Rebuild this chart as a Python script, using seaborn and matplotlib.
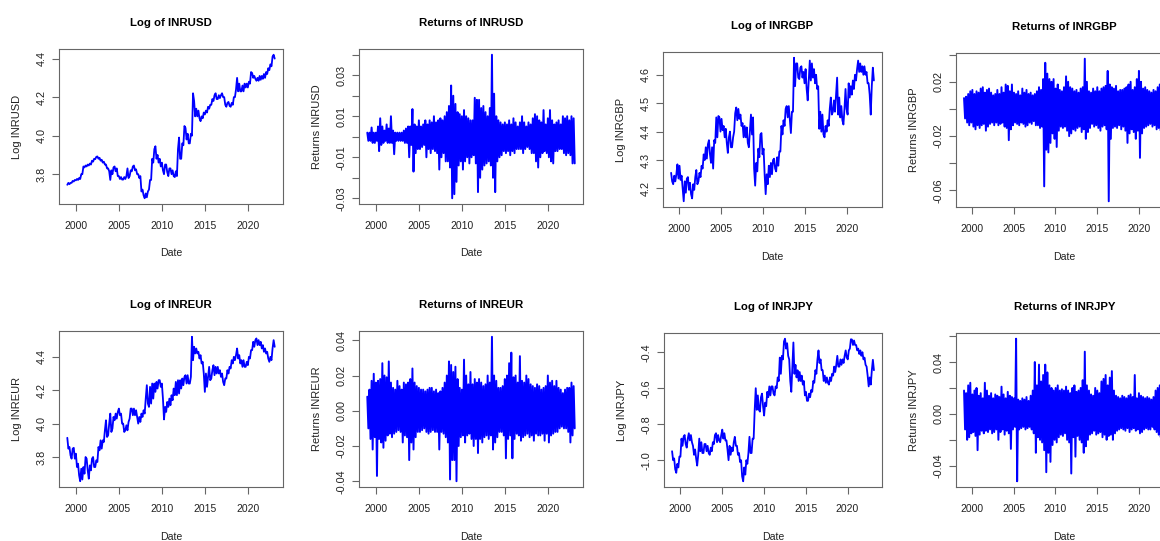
import numpy as np
import matplotlib
matplotlib.use("Agg")
import matplotlib.pyplot as plt
import seaborn as sns

# Quarter starts, 1999 Q1 .. 2023 Q1 (97 quarters)
QUARTERS = np.arange(1999.0, 2023.01, 0.25)
YEAR_TICKS = [2000, 2005, 2010, 2015, 2020]

# ---- Log INRUSD: quarterly high / low ----
usd_log_hi = [3.755, 3.755, 3.765, 3.770,
              3.775, 3.780, 3.800, 3.840,
              3.845, 3.850, 3.855, 3.870,
              3.880, 3.890, 3.892, 3.885,
              3.875, 3.865, 3.850, 3.830,
              3.820, 3.835, 3.840, 3.830,
              3.790, 3.785, 3.785, 3.790,
              3.830, 3.820, 3.840, 3.845,
              3.825, 3.800, 3.790, 3.720,
              3.700, 3.710, 3.770, 3.880,
              3.930, 3.945, 3.900, 3.880,
              3.860, 3.850, 3.850, 3.830,
              3.830, 3.820, 3.815, 3.930,
              3.990, 3.960, 4.050, 4.040,
              4.010, 4.010, 4.220, 4.180,
              4.140, 4.130, 4.100, 4.120,
              4.130, 4.150, 4.160, 4.190,
              4.210, 4.220, 4.210, 4.210,
              4.220, 4.200, 4.170, 4.175,
              4.170, 4.200, 4.240, 4.300,
              4.270, 4.260, 4.270, 4.270,
              4.280, 4.330, 4.325, 4.310,
              4.300, 4.310, 4.310, 4.320,
              4.330, 4.350, 4.370, 4.410,
              4.420]
usd_log_lo = [3.745, 3.748, 3.755, 3.762,
              3.768, 3.770, 3.775, 3.800,
              3.835, 3.840, 3.845, 3.850,
              3.865, 3.878, 3.880, 3.870,
              3.860, 3.850, 3.830, 3.815,
              3.770, 3.800, 3.815, 3.790,
              3.775, 3.772, 3.772, 3.775,
              3.780, 3.790, 3.815, 3.820,
              3.800, 3.780, 3.710, 3.690,
              3.675, 3.680, 3.720, 3.770,
              3.860, 3.880, 3.860, 3.840,
              3.820, 3.800, 3.810, 3.790,
              3.800, 3.790, 3.785, 3.790,
              3.880, 3.880, 3.950, 3.980,
              3.960, 3.960, 4.000, 4.100,
              4.100, 4.090, 4.075, 4.090,
              4.110, 4.120, 4.140, 4.160,
              4.180, 4.190, 4.190, 4.195,
              4.200, 4.160, 4.150, 4.155,
              4.150, 4.160, 4.200, 4.230,
              4.230, 4.230, 4.230, 4.250,
              4.250, 4.270, 4.300, 4.295,
              4.285, 4.285, 4.290, 4.295,
              4.300, 4.320, 4.340, 4.360,
              4.400]

# ---- Returns INRUSD: quarterly max / min daily return ----
usd_ret_hi = [0.002, 0.002, 0.0045, 0.002,
              0.002, 0.005, 0.009, 0.005,
              0.003, 0.006, 0.004, 0.010,
              0.003, 0.002, 0.002, 0.002,
              0.002, 0.003, 0.004, 0.005,
              0.005, 0.0135, 0.006, 0.005,
              0.008, 0.005, 0.006, 0.008,
              0.006, 0.008, 0.007, 0.010,
              0.007, 0.008, 0.009, 0.008,
              0.010, 0.012, 0.015, 0.025,
              0.020, 0.016, 0.012, 0.011,
              0.010, 0.013, 0.010, 0.009,
              0.008, 0.008, 0.019, 0.018,
              0.018, 0.014, 0.015, 0.012,
              0.010, 0.014, 0.040, 0.021,
              0.010, 0.008, 0.007, 0.006,
              0.007, 0.006, 0.008, 0.006,
              0.009, 0.007, 0.005, 0.007,
              0.010, 0.007, 0.005, 0.007,
              0.006, 0.009, 0.011, 0.010,
              0.008, 0.007, 0.013, 0.006,
              0.009, 0.013, 0.008, 0.006,
              0.007, 0.008, 0.006, 0.010,
              0.009, 0.010, 0.008, 0.010,
              0.009]
usd_ret_lo = [-0.002, -0.002, -0.003, -0.003,
              -0.002, -0.007, -0.004, -0.003,
              -0.002, -0.003, -0.003, -0.003,
              -0.0085, -0.002, -0.002, -0.002,
              -0.002, -0.003, -0.003, -0.010,
              -0.004, -0.017, -0.008, -0.006,
              -0.006, -0.005, -0.004, -0.010,
              -0.006, -0.008, -0.006, -0.007,
              -0.008, -0.016, -0.010, -0.008,
              -0.012, -0.012, -0.015, -0.030,
              -0.028, -0.022, -0.014, -0.012,
              -0.016, -0.012, -0.010, -0.013,
              -0.010, -0.009, -0.013, -0.027,
              -0.020, -0.016, -0.014, -0.013,
              -0.012, -0.014, -0.020, -0.027,
              -0.012, -0.010, -0.009, -0.007,
              -0.008, -0.007, -0.009, -0.007,
              -0.008, -0.006, -0.006, -0.006,
              -0.008, -0.006, -0.005, -0.006,
              -0.008, -0.008, -0.012, -0.015,
              -0.010, -0.008, -0.007, -0.008,
              -0.010, -0.012, -0.013, -0.007,
              -0.007, -0.006, -0.006, -0.008,
              -0.009, -0.008, -0.009, -0.013,
              -0.013]

# ---- Log INRGBP ----
gbp_log_hi = [4.255, 4.245, 4.250, 4.285,
              4.280, 4.245, 4.225, 4.235,
              4.240, 4.220, 4.215, 4.240,
              4.265, 4.255, 4.280, 4.320,
              4.345, 4.355, 4.370, 4.345,
              4.370, 4.450, 4.455, 4.450,
              4.445, 4.420, 4.410, 4.380,
              4.400, 4.380, 4.465, 4.485,
              4.480, 4.460, 4.430, 4.420,
              4.415, 4.400, 4.460, 4.450,
              4.290, 4.340, 4.390, 4.395,
              4.340, 4.250, 4.280, 4.290,
              4.300, 4.305, 4.310, 4.330,
              4.420, 4.440, 4.480, 4.490,
              4.490, 4.470, 4.660, 4.640,
              4.640, 4.625, 4.630, 4.610,
              4.620, 4.580, 4.650, 4.640,
              4.620, 4.600, 4.560, 4.470,
              4.460, 4.420, 4.440, 4.480,
              4.520, 4.510, 4.530, 4.590,
              4.520, 4.490, 4.480, 4.550,
              4.570, 4.560, 4.580, 4.600,
              4.620, 4.650, 4.640, 4.630,
              4.630, 4.610, 4.570, 4.560,
              4.625]
gbp_log_lo = [4.225, 4.215, 4.225, 4.235,
              4.230, 4.200, 4.155, 4.185,
              4.195, 4.180, 4.165, 4.195,
              4.215, 4.225, 4.240, 4.270,
              4.300, 4.305, 4.320, 4.290,
              4.270, 4.360, 4.380, 4.400,
              4.405, 4.380, 4.360, 4.325,
              4.345, 4.345, 4.400, 4.440,
              4.445, 4.420, 4.380, 4.380,
              4.360, 4.345, 4.390, 4.270,
              4.210, 4.260, 4.310, 4.320,
              4.250, 4.180, 4.215, 4.240,
              4.250, 4.270, 4.260, 4.280,
              4.330, 4.390, 4.420, 4.450,
              4.440, 4.395, 4.470, 4.560,
              4.590, 4.585, 4.590, 4.570,
              4.550, 4.510, 4.580, 4.590,
              4.570, 4.550, 4.410, 4.400,
              4.390, 4.380, 4.400, 4.420,
              4.460, 4.470, 4.470, 4.460,
              4.450, 4.440, 4.425, 4.480,
              4.460, 4.520, 4.530, 4.550,
              4.580, 4.610, 4.610, 4.600,
              4.600, 4.570, 4.530, 4.460,
              4.580]

# ---- Returns INRGBP ----
gbp_ret_hi = [0.008, 0.009, 0.011, 0.013,
              0.014, 0.011, 0.013, 0.012,
              0.015, 0.016, 0.012, 0.014,
              0.015, 0.012, 0.010, 0.011,
              0.014, 0.011, 0.016, 0.012,
              0.018, 0.017, 0.013, 0.018,
              0.012, 0.011, 0.013, 0.010,
              0.015, 0.012, 0.014, 0.011,
              0.012, 0.010, 0.011, 0.013,
              0.016, 0.014, 0.022, 0.034,
              0.026, 0.022, 0.020, 0.022,
              0.015, 0.018, 0.014, 0.013,
              0.016, 0.024, 0.020, 0.016,
              0.015, 0.013, 0.014, 0.012,
              0.015, 0.016, 0.037, 0.020,
              0.013, 0.012, 0.015, 0.013,
              0.016, 0.013, 0.015, 0.016,
              0.017, 0.028, 0.018, 0.016,
              0.015, 0.017, 0.013, 0.014,
              0.014, 0.015, 0.016, 0.018,
              0.020, 0.014, 0.016, 0.022,
              0.028, 0.020, 0.015, 0.016,
              0.014, 0.013, 0.012, 0.014,
              0.013, 0.016, 0.018, 0.016,
              0.014]
gbp_ret_lo = [-0.007, -0.010, -0.012, -0.010,
              -0.013, -0.015, -0.012, -0.014,
              -0.012, -0.011, -0.016, -0.013,
              -0.011, -0.010, -0.012, -0.010,
              -0.012, -0.011, -0.010, -0.013,
              -0.014, -0.023, -0.015, -0.012,
              -0.010, -0.011, -0.012, -0.010,
              -0.011, -0.013, -0.012, -0.010,
              -0.011, -0.009, -0.012, -0.012,
              -0.014, -0.013, -0.057, -0.030,
              -0.032, -0.025, -0.018, -0.022,
              -0.028, -0.016, -0.013, -0.014,
              -0.013, -0.016, -0.020, -0.018,
              -0.015, -0.016, -0.014, -0.013,
              -0.017, -0.015, -0.022, -0.017,
              -0.014, -0.011, -0.013, -0.012,
              -0.014, -0.016, -0.013, -0.012,
              -0.015, -0.068, -0.022, -0.014,
              -0.013, -0.014, -0.012, -0.015,
              -0.013, -0.016, -0.025, -0.018,
              -0.015, -0.017, -0.022, -0.016,
              -0.036, -0.018, -0.014, -0.013,
              -0.012, -0.011, -0.013, -0.012,
              -0.015, -0.014, -0.016, -0.015,
              -0.013]

# ---- Log INREUR ----
eur_log_hi = [3.915, 3.860, 3.850, 3.855,
              3.820, 3.760, 3.730, 3.740,
              3.800, 3.790, 3.750, 3.790,
              3.800, 3.780, 3.860, 3.900,
              3.900, 3.960, 4.020, 4.000,
              4.060, 4.040, 4.060, 4.070,
              4.090, 4.060, 4.000, 3.990,
              4.010, 4.090, 4.090, 4.090,
              4.080, 4.040, 4.060, 4.080,
              4.150, 4.230, 4.220, 4.240,
              4.240, 4.250, 4.260, 4.260,
              4.240, 4.100, 4.130, 4.150,
              4.170, 4.210, 4.250, 4.260,
              4.260, 4.270, 4.280, 4.290,
              4.290, 4.280, 4.520, 4.460,
              4.450, 4.430, 4.410, 4.370,
              4.300, 4.280, 4.340, 4.320,
              4.350, 4.340, 4.340, 4.320,
              4.300, 4.270, 4.320, 4.340,
              4.380, 4.400, 4.410, 4.450,
              4.410, 4.380, 4.380, 4.370,
              4.400, 4.440, 4.490, 4.500,
              4.510, 4.500, 4.490, 4.470,
              4.450, 4.430, 4.400, 4.450,
              4.500]
eur_log_lo = [3.850, 3.810, 3.790, 3.790,
              3.740, 3.690, 3.655, 3.665,
              3.700, 3.720, 3.670, 3.720,
              3.740, 3.740, 3.770, 3.840,
              3.850, 3.890, 3.920, 3.930,
              3.950, 3.970, 4.020, 4.030,
              4.050, 4.000, 3.950, 3.960,
              3.960, 4.030, 4.050, 4.050,
              4.040, 4.000, 4.010, 4.040,
              4.060, 4.120, 4.100, 4.120,
              4.150, 4.190, 4.210, 4.220,
              4.150, 4.025, 4.070, 4.100,
              4.110, 4.140, 4.170, 4.170,
              4.180, 4.210, 4.230, 4.240,
              4.240, 4.240, 4.380, 4.420,
              4.420, 4.390, 4.360, 4.300,
              4.190, 4.220, 4.260, 4.270,
              4.290, 4.300, 4.300, 4.280,
              4.250, 4.230, 4.270, 4.300,
              4.330, 4.360, 4.380, 4.390,
              4.360, 4.340, 4.340, 4.340,
              4.350, 4.390, 4.440, 4.460,
              4.470, 4.470, 4.450, 4.430,
              4.420, 4.390, 4.370, 4.380,
              4.460]

# ---- Returns INREUR ----
eur_ret_hi = [0.008, 0.012, 0.017, 0.021,
              0.016, 0.017, 0.018, 0.027,
              0.020, 0.019, 0.028, 0.016,
              0.013, 0.012, 0.017, 0.014,
              0.012, 0.016, 0.015, 0.016,
              0.018, 0.024, 0.016, 0.014,
              0.013, 0.012, 0.012, 0.011,
              0.012, 0.013, 0.013, 0.011,
              0.012, 0.010, 0.011, 0.013,
              0.016, 0.020, 0.028, 0.026,
              0.022, 0.025, 0.018, 0.013,
              0.012, 0.029, 0.020, 0.015,
              0.022, 0.015, 0.018, 0.016,
              0.018, 0.016, 0.014, 0.015,
              0.020, 0.016, 0.042, 0.020,
              0.017, 0.013, 0.013, 0.014,
              0.018, 0.020, 0.027, 0.033,
              0.019, 0.020, 0.016, 0.031,
              0.017, 0.016, 0.020, 0.018,
              0.015, 0.014, 0.013, 0.015,
              0.014, 0.012, 0.013, 0.014,
              0.020, 0.016, 0.017, 0.014,
              0.017, 0.013, 0.012, 0.010,
              0.012, 0.013, 0.013, 0.016,
              0.014]
eur_ret_lo = [-0.010, -0.016, -0.022, -0.015,
              -0.037, -0.016, -0.018, -0.021,
              -0.017, -0.014, -0.013, -0.015,
              -0.013, -0.012, -0.011, -0.012,
              -0.018, -0.014, -0.015, -0.028,
              -0.018, -0.022, -0.015, -0.012,
              -0.012, -0.011, -0.010, -0.012,
              -0.013, -0.012, -0.011, -0.012,
              -0.012, -0.022, -0.012, -0.013,
              -0.015, -0.018, -0.039, -0.028,
              -0.028, -0.040, -0.020, -0.015,
              -0.014, -0.018, -0.014, -0.013,
              -0.016, -0.020, -0.016, -0.024,
              -0.016, -0.018, -0.015, -0.014,
              -0.016, -0.014, -0.022, -0.018,
              -0.015, -0.012, -0.012, -0.014,
              -0.027, -0.016, -0.014, -0.027,
              -0.016, -0.013, -0.014, -0.017,
              -0.015, -0.014, -0.013, -0.015,
              -0.014, -0.017, -0.013, -0.014,
              -0.014, -0.013, -0.017, -0.013,
              -0.018, -0.014, -0.013, -0.012,
              -0.012, -0.010, -0.009, -0.010,
              -0.010, -0.012, -0.018, -0.014,
              -0.010]

# ---- Log INRJPY ----
jpy_log_hi = [-0.950, -0.990, -1.020, -0.980,
              -0.880, -0.870, -0.860, -0.880,
              -0.850, -0.860, -0.920, -0.940,
              -0.970, -0.880, -0.900, -0.910,
              -0.910, -0.920, -0.930, -0.900,
              -0.860, -0.850, -0.860, -0.860,
              -0.830, -0.850, -0.890, -0.920,
              -0.930, -0.900, -0.870, -0.920,
              -0.960, -1.000, -1.040, -1.000,
              -0.960, -0.870, -0.880, -0.720,
              -0.600, -0.640, -0.650, -0.630,
              -0.680, -0.620, -0.590, -0.590,
              -0.590, -0.590, -0.540, -0.430,
              -0.420, -0.340, -0.325, -0.350,
              -0.440, -0.480, -0.346, -0.470,
              -0.500, -0.510, -0.530, -0.560,
              -0.620, -0.630, -0.610, -0.560,
              -0.500, -0.440, -0.390, -0.440,
              -0.500, -0.530, -0.540, -0.540,
              -0.520, -0.480, -0.470, -0.420,
              -0.440, -0.440, -0.420, -0.390,
              -0.390, -0.328, -0.330, -0.335,
              -0.360, -0.380, -0.390, -0.400,
              -0.430, -0.480, -0.540, -0.500,
              -0.442]
jpy_log_lo = [-1.000, -1.050, -1.070, -1.040,
              -0.980, -0.920, -0.910, -0.930,
              -0.890, -0.900, -0.970, -0.990,
              -1.030, -0.950, -0.960, -0.960,
              -0.950, -0.960, -0.970, -0.950,
              -0.910, -0.900, -0.890, -0.900,
              -0.880, -0.890, -0.940, -1.000,
              -0.970, -0.950, -0.920, -0.970,
              -1.010, -1.090, -1.117, -1.080,
              -1.020, -0.960, -0.960, -0.880,
              -0.720, -0.720, -0.730, -0.700,
              -0.752, -0.700, -0.650, -0.640,
              -0.630, -0.640, -0.600, -0.560,
              -0.520, -0.440, -0.380, -0.420,
              -0.560, -0.620, -0.520, -0.540,
              -0.560, -0.560, -0.580, -0.640,
              -0.670, -0.670, -0.650, -0.620,
              -0.570, -0.520, -0.460, -0.500,
              -0.560, -0.570, -0.570, -0.580,
              -0.560, -0.530, -0.510, -0.480,
              -0.480, -0.470, -0.460, -0.430,
              -0.440, -0.380, -0.360, -0.360,
              -0.390, -0.410, -0.420, -0.440,
              -0.470, -0.530, -0.590, -0.580,
              -0.500]

# ---- Returns INRJPY ----
jpy_ret_hi = [0.018, 0.016, 0.022, 0.024,
              0.015, 0.018, 0.020, 0.014,
              0.016, 0.012, 0.024, 0.018,
              0.014, 0.016, 0.012, 0.015,
              0.014, 0.013, 0.021, 0.015,
              0.012, 0.017, 0.014, 0.013,
              0.012, 0.058, 0.011, 0.010,
              0.012, 0.011, 0.013, 0.010,
              0.014, 0.018, 0.040, 0.022,
              0.038, 0.025, 0.030, 0.038,
              0.032, 0.022, 0.020, 0.018,
              0.020, 0.022, 0.018, 0.019,
              0.018, 0.021, 0.018, 0.016,
              0.020, 0.022, 0.017, 0.018,
              0.020, 0.026, 0.048, 0.022,
              0.018, 0.015, 0.014, 0.020,
              0.018, 0.016, 0.025, 0.027,
              0.030, 0.022, 0.028, 0.033,
              0.018, 0.014, 0.013, 0.012,
              0.014, 0.013, 0.012, 0.014,
              0.015, 0.013, 0.030, 0.012,
              0.016, 0.014, 0.013, 0.012,
              0.013, 0.012, 0.011, 0.013,
              0.018, 0.020, 0.022, 0.018,
              0.016]
jpy_ret_lo = [-0.012, -0.020, -0.018, -0.015,
              -0.014, -0.017, -0.028, -0.016,
              -0.013, -0.015, -0.013, -0.014,
              -0.012, -0.015, -0.014, -0.012,
              -0.020, -0.014, -0.012, -0.016,
              -0.013, -0.015, -0.027, -0.012,
              -0.010, -0.052, -0.012, -0.011,
              -0.010, -0.012, -0.011, -0.010,
              -0.012, -0.015, -0.030, -0.018,
              -0.020, -0.022, -0.028, -0.045,
              -0.030, -0.037, -0.024, -0.020,
              -0.022, -0.018, -0.016, -0.017,
              -0.015, -0.020, -0.022, -0.046,
              -0.018, -0.033, -0.017, -0.020,
              -0.022, -0.030, -0.025, -0.020,
              -0.016, -0.015, -0.013, -0.016,
              -0.015, -0.014, -0.018, -0.016,
              -0.020, -0.017, -0.016, -0.020,
              -0.015, -0.013, -0.012, -0.011,
              -0.012, -0.013, -0.011, -0.014,
              -0.012, -0.011, -0.013, -0.012,
              -0.015, -0.014, -0.012, -0.011,
              -0.012, -0.012, -0.010, -0.012,
              -0.014, -0.016, -0.018, -0.015,
              -0.014]

# ---------------------------------------------------------------------------
sns.set_style("ticks")
plt.rcParams["font.family"] = ["Liberation Sans", "DejaVu Sans"]
plt.rcParams.update({
    "axes.edgecolor": "#666666",
    "axes.linewidth": 0.8,
    "xtick.color": "#666666",
    "ytick.color": "#666666",
    "xtick.labelcolor": "#222222",
    "ytick.labelcolor": "#222222",
    "xtick.major.size": 4.7,
    "ytick.major.size": 4.7,
    "xtick.major.width": 0.8,
    "ytick.major.width": 0.8,
    "xtick.major.pad": 7.5,
    "ytick.major.pad": 4.0,
    "xtick.labelsize": 7.5,
    "ytick.labelsize": 7.8,
})

W, H = 1160, 541
fig = plt.figure(figsize=(W / 100, H / 100), dpi=100)
fig.patch.set_facecolor("white")


def panel(x0, x1, ytop, ybot):
    return fig.add_axes([x0 / W, 1 - ybot / H, (x1 - x0) / W, (ybot - ytop) / H])


def zigzag(hi, lo, follow_trend):
    """High and low of every quarter, visited in turn."""
    hi = np.asarray(hi, float)
    lo = np.asarray(lo, float)
    mid = (hi + lo) / 2
    xs, ys = [], []
    for i, t in enumerate(QUARTERS):
        first, second = hi[i], lo[i]
        if follow_trend and i + 1 < len(mid) and mid[i + 1] > mid[i]:
            first, second = lo[i], hi[i]
        xs += [t + 0.03, t + 0.155]
        ys += [first, second]
    return np.array(xs), np.array(ys)


def draw(ax, hi, lo, follow_trend, title, ylabel, yticks, ylabels, lw):
    xs, ys = zigzag(hi, lo, follow_trend)
    sns.lineplot(x=xs, y=ys, sort=False, estimator=None, color="#0000ff",
                 linewidth=lw, ax=ax)
    xpad = 0.04 * (xs.max() - xs.min())
    ypad = 0.04 * (ys.max() - ys.min())
    ax.set_xlim(xs.min() - xpad, xs.max() + xpad)
    ax.set_ylim(ys.min() - ypad, ys.max() + ypad)
    ax.set_xticks(YEAR_TICKS)
    ax.set_xticklabels([str(y) for y in YEAR_TICKS])
    ax.set_yticks(yticks)
    ax.set_yticklabels(ylabels, rotation=90, va="center")
    ax.set_xlabel("")
    ax.set_ylabel("")
    for side in ("top", "right", "bottom", "left"):
        ax.spines[side].set_visible(True)
    ax.annotate(title, xy=(0.5, 1), xycoords="axes fraction",
                xytext=(0, 26 * 0.72), textcoords="offset points",
                ha="center", va="center", fontsize=8.2, fontweight="bold",
                color="black")
    ax.annotate("Date", xy=(0.5, 0), xycoords="axes fraction",
                xytext=(0, -49.5 * 0.72), textcoords="offset points",
                ha="center", va="center", fontsize=7.6, color="#222222")
    ax.annotate(ylabel, xy=(0, 0.5), xycoords="axes fraction",
                xytext=(-42 * 0.72, 0), textcoords="offset points",
                ha="center", va="center", rotation=90, fontsize=8.0,
                color="#222222")


LW_LEVEL = 1.3
LW_RET = 1.4

# top row
draw(panel(59, 283, 49, 204), usd_log_hi, usd_log_lo, True,
     "Log of INRUSD", "Log INRUSD",
     [3.8, 4.0, 4.2, 4.4], ["3.8", "4.0", "4.2", "4.4"], LW_LEVEL)
draw(panel(359, 583, 49, 204), usd_ret_hi, usd_ret_lo, False,
     "Returns of INRUSD", "Returns INRUSD",
     [-0.03, -0.02, -0.01, 0.0, 0.01, 0.02, 0.03, 0.04],
     ["-0.03", "", "-0.01", "", "0.01", "", "0.03", ""], LW_RET)
draw(panel(663, 882, 52, 207), gbp_log_hi, gbp_log_lo, True,
     "Log of INRGBP", "Log INRGBP",
     [4.2, 4.3, 4.4, 4.5, 4.6], ["4.2", "4.3", "4.4", "4.5", "4.6"], LW_LEVEL)
draw(panel(956, 1173, 53, 207), gbp_ret_hi, gbp_ret_lo, False,
     "Returns of INRGBP", "Returns INRGBP",
     [-0.06, -0.04, -0.02, 0.0, 0.02, 0.04],
     ["-0.06", "", "-0.02", "", "0.02", ""], LW_RET)

# bottom row
draw(panel(59, 283, 331, 487), eur_log_hi, eur_log_lo, True,
     "Log of INREUR", "Log INREUR",
     [3.8, 4.0, 4.2, 4.4], ["3.8", "4.0", "4.2", "4.4"], LW_LEVEL)
draw(panel(359, 583, 331, 487), eur_ret_hi, eur_ret_lo, False,
     "Returns of INREUR", "Returns INREUR",
     [-0.04, -0.02, 0.0, 0.02, 0.04],
     ["-0.04", "-0.02", "0.00", "0.02", "0.04"], LW_RET)
draw(panel(664, 882, 333, 487), jpy_log_hi, jpy_log_lo, True,
     "Log of INRJPY", "Log INRJPY",
     [-1.0, -0.8, -0.6, -0.4], ["-1.0", "-0.8", "-0.6", "-0.4"], LW_LEVEL)
draw(panel(956, 1173, 333, 487), jpy_ret_hi, jpy_ret_lo, False,
     "Returns of INRJPY", "Returns INRJPY",
     [-0.04, -0.02, 0.0, 0.02, 0.04, 0.06],
     ["-0.04", "", "0.00", "", "0.04", ""], LW_RET)

fig.savefig("out.png", dpi=100, facecolor="white")
